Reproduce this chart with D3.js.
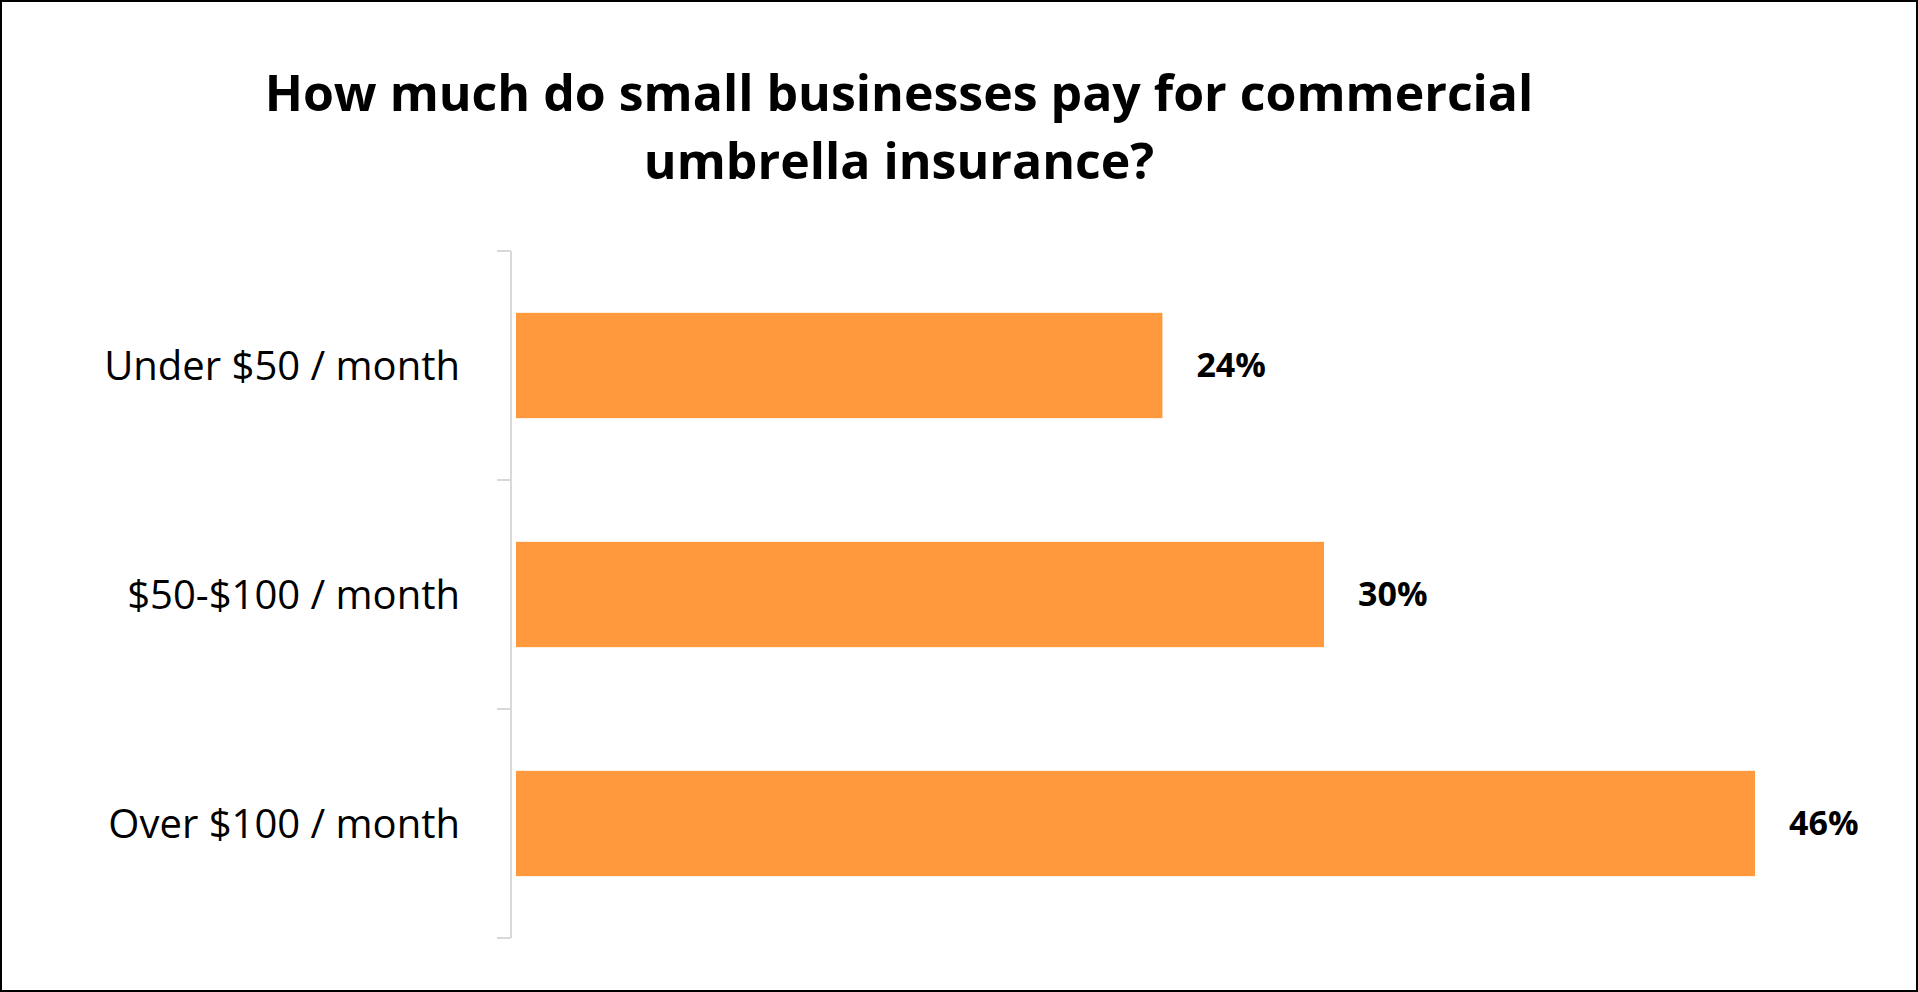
<!DOCTYPE html>
<html><head><meta charset="utf-8">
<script src="https://cdn.jsdelivr.net/npm/d3@7"></script>
<style>body{margin:0;background:#fff}</style>
</head><body>
<svg id="chart" width="1918" height="992"></svg>
<script>
const categories = ["Under $50 / month", "$50-$100 / month", "Over $100 / month"];
const values = [24, 30, 46];
const titleLines = ["How much do small businesses pay for commercial", "umbrella insurance?"];

const svg = d3.select("#chart");
const font = "'Open Sans', 'Noto Sans', sans-serif";

svg.append("rect").attr("x", 1).attr("y", 1).attr("width", 1916).attr("height", 990)
    .attr("fill", "#fff").attr("stroke", "#000").attr("stroke-width", 2);

svg.selectAll(".title").data(titleLines).enter().append("text")
    .attr("x", 899).attr("y", (d, i) => 111 + i * 68)
    .attr("text-anchor", "middle")
    .style("font-family", font).style("font-weight", "bold").style("font-size", "50px")
    .text(d => d);

const x = d3.scaleLinear().domain([0, 46]).range([516, 1755]);
const y = d3.scaleBand().domain(categories).range([251, 938]).paddingInner(0.54).paddingOuter(0.27);

// axis line with ticks
const axisX = 511;
svg.append("line").attr("x1", axisX).attr("x2", axisX).attr("y1", 251).attr("y2", 938)
    .attr("stroke", "#d9d9d9").attr("stroke-width", 2);
const step = y.step();
svg.selectAll(".tick").data(d3.range(categories.length + 1)).enter().append("line")
    .attr("x1", axisX - 14).attr("x2", axisX)
    .attr("y1", d => 251 + d * (687 / 3)).attr("y2", d => 251 + d * (687 / 3))
    .attr("stroke", "#d9d9d9").attr("stroke-width", 2);

svg.selectAll(".bar").data(values).enter().append("rect")
    .attr("x", x(0)).attr("y", (d, i) => y(categories[i]))
    .attr("width", d => x(d) - x(0)).attr("height", y.bandwidth())
    .attr("fill", "#ff993d");

svg.selectAll(".cat").data(categories).enter().append("text")
    .attr("x", 460).attr("y", d => y(d) + y.bandwidth() / 2)
    .attr("dy", "0.35em").attr("text-anchor", "end")
    .style("font-family", font).style("font-size", "40px")
    .text(d => d);

svg.selectAll(".val").data(values).enter().append("text")
    .attr("x", d => x(d) + 34).attr("y", (d, i) => y(categories[i]) + y.bandwidth() / 2)
    .attr("dy", "0.35em")
    .style("font-family", font).style("font-weight", "bold").style("font-size", "34px")
    .text(d => d + "%");
</script>
</body></html>
